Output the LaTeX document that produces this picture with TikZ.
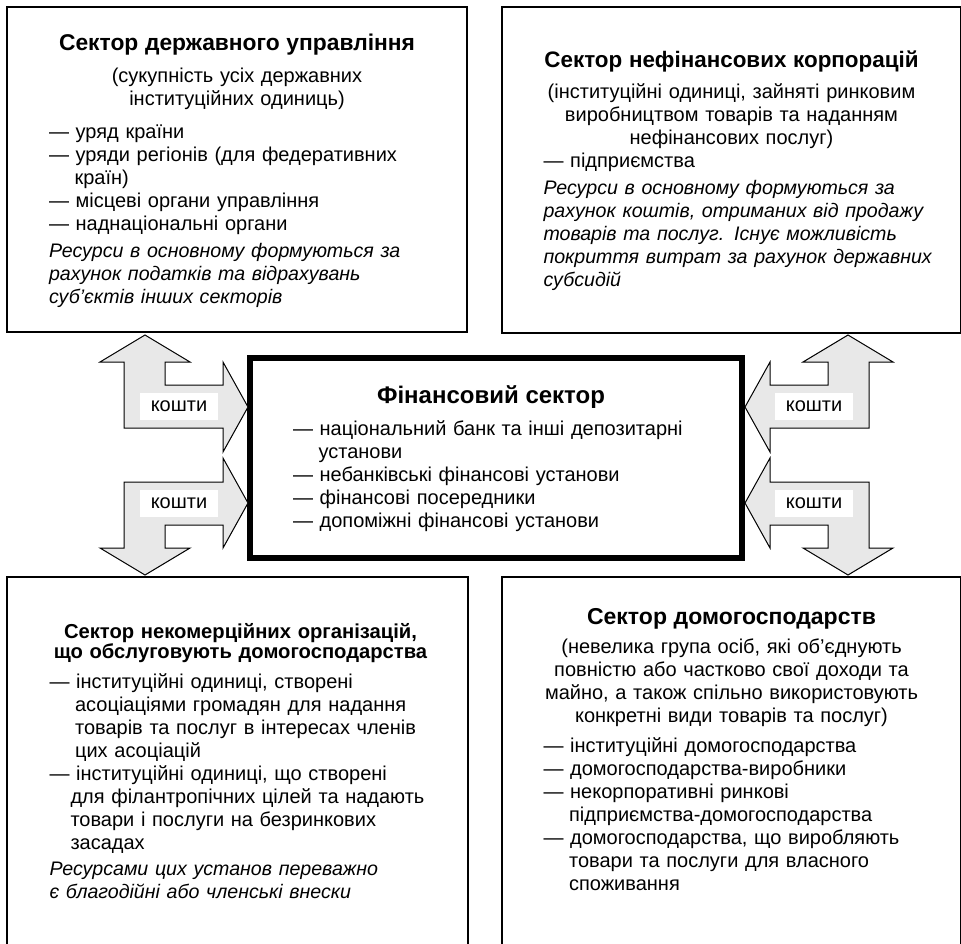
\documentclass[tikz,border=0pt]{standalone}
\usepackage{fontspec}
\setmainfont{Liberation Sans}
\usetikzlibrary{positioning}

\definecolor{arrowGray}{RGB}{232,232,232}

\newcommand{\secTitle}[2][11.4]{{\centering\fontsize{#1}{10pt}\selectfont\bfseries #2\par}}
\newcommand{\secNote}[1]{{\centering #1\par}}
\newcommand{\secItem}[2][12.8pt]{{\raggedright\hangindent=#1\hangafter=1 — #2\par}}
\newcommand{\resLine}[1]{{\noindent\makebox[\linewidth][s]{#1}\par}}
\newcommand{\secRes}[1]{{\fontsize{9.8}{11.5}\selectfont\itshape #1\par}}
\newcommand{\secGap}[1]{\vspace{#1}}

\begin{document}
\begin{tikzpicture}[x=0.5pt, y=-0.5pt]
  \tikzstyle{sectorBox} = [draw, line width=1.1pt, rectangle, outer sep=0pt, inner sep=0pt, anchor=north west]
  \tikzstyle{finBox} = [sectorBox, line width=2.8pt]
  \tikzstyle{sectorText} = [anchor=base, inner sep=0pt, text width=188pt, font={\fontsize{10}{11.5}\selectfont}]
  \tikzstyle{moneyArrow} = [draw, line width=0.5pt, fill=arrowGray, line join=miter]
  \tikzstyle{moneyLabel} = [fill=white, inner sep=0pt, minimum width=39pt, minimum height=13.5pt, font={\fontsize{10}{11.5}\selectfont}]

  \useasboundingbox (0,0) rectangle (961,943);

  % sector frames
  \node[sectorBox, minimum width=230pt, minimum height=162.5pt] (gov) at (7,7) {};
  \node[sectorBox, minimum width=229.5pt, minimum height=163pt] (corp) at (502,7) {};
  \node[sectorBox, minimum width=230.5pt, minimum height=211.5pt] (npish) at (7,577) {};
  \node[sectorBox, minimum width=229.5pt, minimum height=211.5pt] (house) at (502,577) {};
  \node[finBox, minimum width=246pt, minimum height=100pt] (fin) at (250,358) {};

  % texts
  \node[sectorText, yshift=-21.5pt] (govText) at (gov.north) {%
    \secTitle[11.4]{Сектор державного управління}
    \secGap{4.5pt}
    \secNote{(сукупність усіх державних\\ інституційних одиниць)}
    \secGap{5pt}
    \secItem{уряд країни}
    \secItem{уряди регіонів (для федеративних\newline країн)}
    \secItem{місцеві органи управління}
    \secItem{наднаціональні органи}
    \secGap{2pt}
    \secRes{\resLine{Ресурси в основному формуються за}
      \resLine{рахунок податків та відрахувань}
      суб’єктів інших секторів}};

  \node[sectorText, yshift=-30pt] (corpText) at (corp.north) {%
    \secTitle[11.2]{Сектор нефінансових корпорацій}
    \secGap{4pt}
    \secNote{(інституційні одиниці, зайняті ринковим\\ виробництвом товарів та наданням\\ нефінансових послуг)}
    \secItem{підприємства}
    \secGap{2pt}
    \secRes{\resLine{Ресурси в основному формуються за}
      \resLine{рахунок коштів, отриманих від продажу}
      \resLine{товарів та послуг. Існує можливість}
      \resLine{покриття витрат за рахунок державних}
      субсидій}};

  \node[sectorText, text width=191pt, yshift=-30.5pt, xshift=1.5pt] (npishText) at (npish.north) {%
    \secTitle[10.1]{Сектор некомерційних організацій,\\ що обслуговують домогосподарства}
    \secGap{3.5pt}
    \secItem{інституційні одиниці, створені\newline асоціаціями громадян для надання\newline товарів та послуг в інтересах членів\newline цих асоціацій}
    \secItem[10.5pt]{інституційні одиниці, що створені\newline для філантропічних цілей та надають\newline товари і послуги на безринкових\newline засадах}
    \secGap{1.5pt}
    \secRes{Ресурсами цих установ переважно\\ є благодійні або членські внески}};

  \node[sectorText, yshift=-23.5pt] (houseText) at (house.north) {%
    \secTitle[11.5]{Сектор домогосподарств}
    \secGap{3pt}
    \secNote{(невелика група осіб, які об’єднують\\ повністю або частково свої доходи та\\ майно, а також спільно використовують\\ конкретні види товарів та послуг)}
    \secGap{3.5pt}
    \secItem{інституційні домогосподарства}
    \secItem{домогосподарства-виробники}
    \secItem{некорпоративні ринкові\newline підприємства-домогосподарства}
    \secItem{домогосподарства, що виробляють\newline товари та послуги для власного\newline споживання}};

  \node[sectorText, text width=198pt, yshift=-22.5pt, xshift=-2.5pt] (finText) at (fin.north) {%
    \secTitle[12]{Фінансовий сектор}
    \secGap{4.5pt}
    \secItem{національний банк та інші депозитарні\newline установи}
    \secItem{небанківські фінансові установи}
    \secItem{фінансові посередники}
    \secItem{допоміжні фінансові установи}};

  % money flows
  \coordinate (hub) at (496.5,455);
  \foreach \sx/\sy/\nm in {1/1/UL, 1/-1/LL, -1/1/UR, -1/-1/LR} {
    \begin{scope}[shift={(hub)}, xscale=\sx, yscale=\sy]
      \draw[moneyArrow] (-351.5,-120) -- (-306.5,-93) -- (-331.5,-93) -- (-331.5,-70) -- (-273.5,-70) -- (-273.5,-93)
        -- (-248.5,-48) -- (-273.5,-3) -- (-273.5,-27) -- (-372.5,-27) -- (-372.5,-93) -- (-396.5,-93) -- cycle;
      \node[moneyLabel] (money\nm) at (-317.5,-48.5) {кошти};
    \end{scope}
  }
\end{tikzpicture}
\end{document}
